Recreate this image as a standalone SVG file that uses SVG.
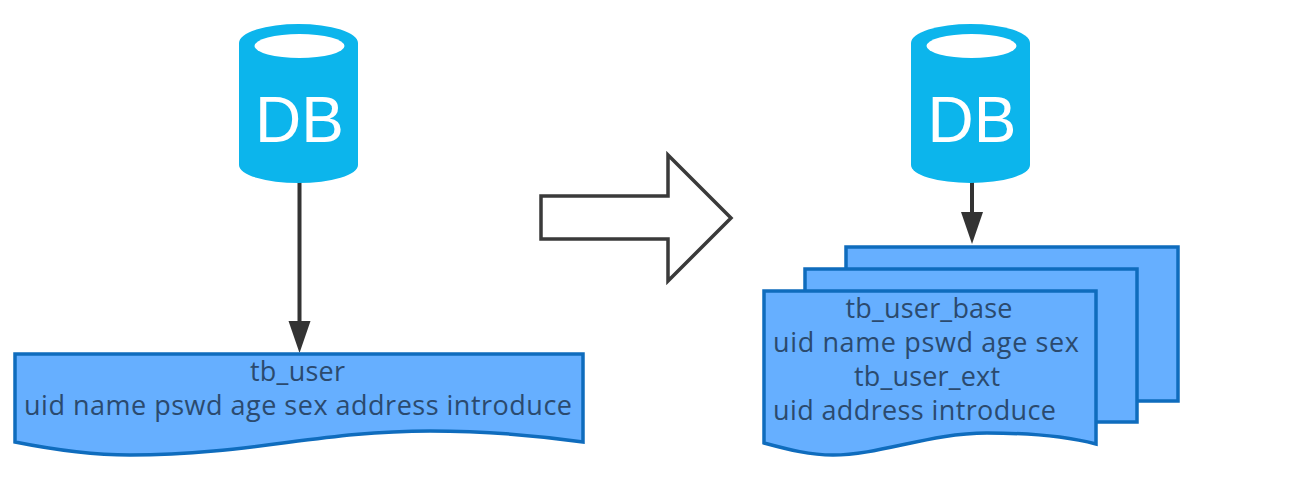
<svg xmlns="http://www.w3.org/2000/svg" width="1304" height="502" viewBox="0 0 1304 502">
<style>
.db{fill:#0cb5ec}
.hole{fill:#fff}
.dbt{font-family:"Liberation Sans",Arial,sans-serif;font-size:64px;fill:#fff;text-anchor:middle}
.doc{fill:#66afff;stroke:#0f6cbd;stroke-width:3.5;stroke-linejoin:miter}
.t{font-family:"Open Sans","Liberation Sans",Arial,sans-serif;font-size:27px;fill:#2b4a6e}
.m{text-anchor:middle}
.conn{fill:none;stroke:#333;stroke-width:4}
.head{fill:#333}
</style>
<rect width="1304" height="502" fill="#fff"/>
<g id="connectors">
<path class="conn" d="M299.500 182V325"/>
<path class="head" d="M288.500 321H310.500L299.500 353Z"/>
<path class="conn" d="M972 182V216"/>
<path class="head" d="M961 212H983L972 244Z"/>
</g>
<g id="db-left">
<path class="db" d="M239 43A59.500 19 0 0 1 358 43V165A59.500 18 0 0 1 239 165Z"/>
<ellipse class="hole" cx="299.500" cy="46" rx="45" ry="12"/>
<text class="dbt" x="299.500" y="142">DB</text>
</g>
<g id="db-right">
<path class="db" d="M911 43A59.500 19 0 0 1 1030 43V165A59.500 18 0 0 1 911 165Z"/>
<ellipse class="hole" cx="971.500" cy="46" rx="45" ry="12"/>
<text class="dbt" x="972" y="142">DB</text>
</g>
<g id="doc-left">
<path class="doc" d="M15 354H583V442C540 436 490 431 430 431C320 431 250 455 130 455C90 455 50 449 15 442Z"/>
<text class="t m" x="297.500" y="381" textLength="95">tb_user</text>
<text class="t m" x="298" y="415" textLength="548">uid name pswd age sex address introduce</text>
</g>
<g id="big-arrow">
<path d="M541 196H668V155L731 218L668 281V239H541Z" fill="#fff" stroke="#3a3a3a" stroke-width="3.500"/>
</g>
<g id="doc-right">
<rect class="doc" x="846" y="247" width="332" height="154"/>
<rect class="doc" x="805" y="269" width="332" height="153"/>
<path class="doc" d="M764 291H1096V444C1065 436 1030 433 987 433C930 433 880 455 833 455C810 455 790 450 764 443Z"/>
<text class="t m" x="929" y="318" textLength="167">tb_user_base</text>
<text class="t" x="773" y="352" textLength="306">uid name pswd age sex</text>
<text class="t m" x="927" y="386" textLength="146">tb_user_ext</text>
<text class="t" x="773" y="420" textLength="283">uid address introduce</text>
</g>
</svg>
